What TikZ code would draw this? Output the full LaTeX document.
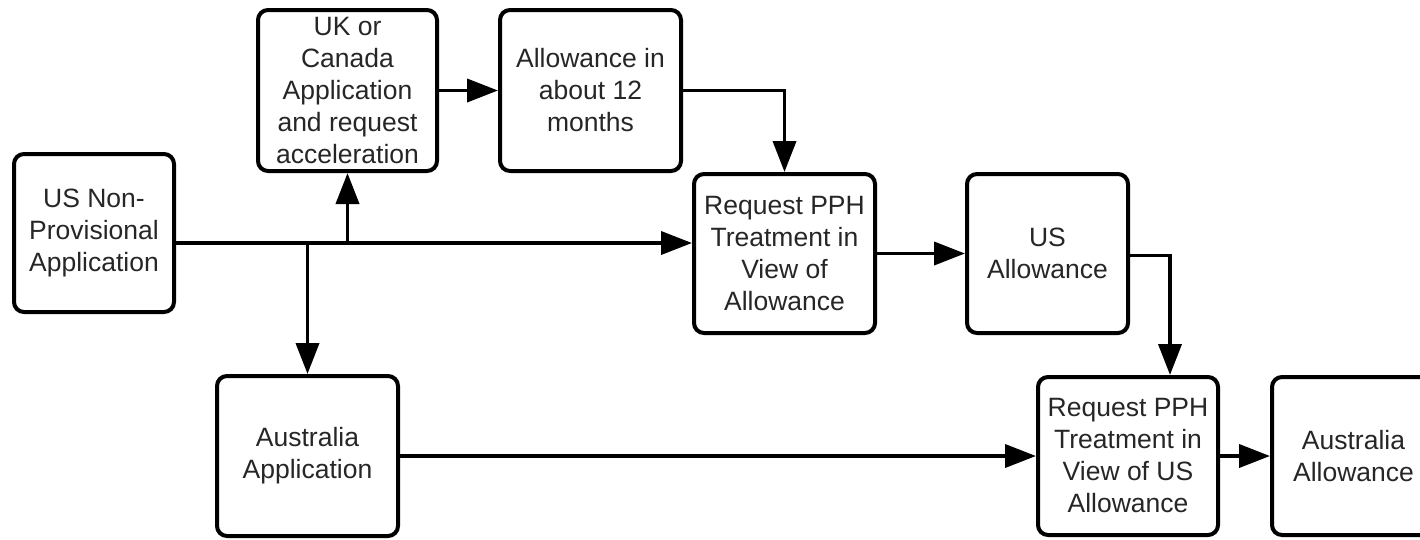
\documentclass[tikz,border=0pt]{standalone}
\usepackage{fontspec}
\setmainfont{Liberation Sans}
\usetikzlibrary{arrows.meta,calc}
\tikzset{
  box/.style={draw, rounded corners=10pt, line width=4pt, align=center,
    font=\fontsize{26.5}{32}\selectfont, inner sep=0pt, text=black!85},
  arr/.style={line width=3.8pt, -{Triangle[length=31pt,width=23pt]}}
}
\begin{document}
\begin{tikzpicture}
\useasboundingbox (0,0) rectangle (1420pt,-539pt);
\clip (0,0) rectangle (1420pt,-539pt);
\node[box, minimum width=160pt, minimum height=158pt] (us) at (94pt,-233pt) {US Non-\\Provisional\\Application};
\node[box, minimum width=179pt, minimum height=161pt] (uk) at (347.5pt,-90.5pt) {UK or\\Canada\\Application\\and request\\acceleration};
\node[box, minimum width=181pt, minimum height=161pt] (al) at (590.5pt,-90.5pt) {Allowance in\\about 12\\months};
\node[box, minimum width=181pt, minimum height=159pt] (pph1) at (784.5pt,-253.5pt) {Request PPH\\Treatment in\\View of\\Allowance};
\node[box, minimum width=161pt, minimum height=159pt] (usal) at (1047.5pt,-253.5pt) {US\\Allowance};
\node[box, minimum width=181pt, minimum height=160pt] (ausapp) at (307.5pt,-456pt) {Australia\\Application};
\node[box, minimum width=180pt, minimum height=158pt] (pph2) at (1128pt,-456pt) {Request PPH\\Treatment in\\View of US\\Allowance};
\node[box, minimum width=163pt, minimum height=158pt, text width=163pt] (ausal) at (1353.5pt,-456pt) {Australia\\Allowance};
\coordinate (m) at (0,-243pt);
\coordinate (t) at (1170pt,0);
\draw[arr] (us.east |- m) -- (pph1.west |- m);
\draw[arr] (uk.south |- m) -- (uk.south);
\draw[arr] (ausapp.north |- m) -- (ausapp.north);
\draw[arr] (uk) -- (al);
\draw[arr] (al.east) -| (pph1.north);
\draw[arr] (pph1) -- (usal);
\draw[arr] ($(usal.east)+(0,-2pt)$) -| (t |- pph2.north);
\draw[arr] (ausapp) -- (pph2);
\draw[arr] (pph2) -- (ausal);
\end{tikzpicture}
\end{document}
